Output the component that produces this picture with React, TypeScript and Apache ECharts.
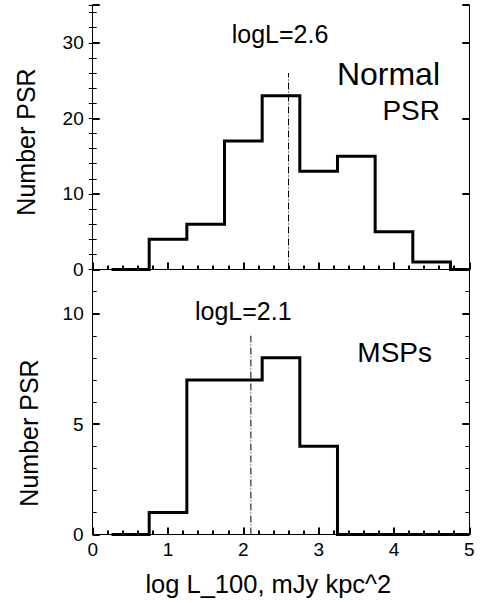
import React, { useEffect, useRef } from 'react';
import * as echarts from 'echarts';

// Histogram bin edges (log L_100) and counts
const binEdges = [0.25, 0.75, 1.25, 1.75, 2.25, 2.75, 3.25, 3.75, 4.25, 4.75, 5];
const normalCounts = [0, 4, 6, 17, 23, 13, 15, 5, 1, 0];
const mspCounts = [0, 1, 7, 7, 8, 4, 0, 0, 0, 0];

// Median markers
const normalMedian = 2.6;
const normalMedianTop = 26;
const mspMedian = 2.1;
const mspMedianTop = 9;

// Axis ranges
const xMin = 0;
const xMax = 5;
const normalYMax = 35;
const mspYMax = 12;

const FONT = '"Liberation Sans", Arial, Helvetica, sans-serif';

function stepPoints(edges: number[], counts: number[]) {
  const pts: number[][] = [];
  counts.forEach((c, i) => {
    pts.push([edges[i], c]);
    pts.push([edges[i + 1], c]);
  });
  return pts;
}

const GL = 92.7;
const GW = 376.6;
const G0T = 5;
const G0H = 264.5;
const G1T = 269.5;
const G1H = 265;

export default function App() {
  const ref = useRef<HTMLDivElement>(null);
  useEffect(() => {
    if (!ref.current) return;
    const chart = echarts.init(ref.current, null, { renderer: 'svg' });
    const black = '#000';
    const lineAxis = () => ({ show: true, lineStyle: { color: black, width: 1 } });
    const tick = (len: number, w: number) => ({ show: true, inside: true, length: len, lineStyle: { color: black, width: w } });
    const noTick = () => ({ show: false });
    const topRect = { left: GL, top: G0T, width: GW, height: G0H };
    const botRect = { left: GL, top: G1T, width: GW, height: G1H };

    const xBase = (gridIndex: number, interval: number) => ({
      type: 'value', gridIndex, min: xMin, max: xMax, interval, splitLine: { show: false },
    });
    const yBase = (gridIndex: number, max: number, interval: number) => ({
      type: 'value', gridIndex, min: 0, max, interval, splitLine: { show: false },
    });

    chart.setOption({
      animation: false,
      grid: [topRect, botRect, topRect, botRect, topRect, botRect],
      xAxis: [
        { ...xBase(0, 1), axisLine: lineAxis(), axisTick: noTick(), axisLabel: { show: false } },
        {
          ...xBase(1, 1), axisLine: lineAxis(), axisTick: noTick(),
          axisLabel: { show: true, color: black, fontSize: 19, fontFamily: FONT, margin: 5 },
        },
        { ...xBase(2, 0.2), axisLine: { show: false }, axisTick: tick(4, 2), axisLabel: { show: false } },
        { ...xBase(2, 1), axisLine: lineAxis(), axisTick: noTick(), axisLabel: { show: false } },
        { ...xBase(3, 0.2), axisLine: { show: false }, axisTick: tick(4, 2), axisLabel: { show: false } },
        { ...xBase(4, 1), axisLine: { show: false }, axisTick: tick(7, 2), axisLabel: { show: false } },
        { ...xBase(5, 1), axisLine: { show: false }, axisTick: tick(7, 2), axisLabel: { show: false } },
      ],
      yAxis: [
        {
          ...yBase(0, normalYMax, 10), axisLine: lineAxis(), axisTick: noTick(),
          axisLabel: {
            color: black, fontSize: 19, fontFamily: FONT, margin: 9,
            formatter: (v: number) => (v % 10 === 0 ? String(v) : ''),
          },
        },
        { ...yBase(0, normalYMax, 10), axisLine: lineAxis(), axisTick: noTick(), axisLabel: { show: false } },
        {
          ...yBase(1, mspYMax, 5), axisLine: lineAxis(), axisTick: noTick(),
          axisLabel: {
            color: black, fontSize: 19, fontFamily: FONT, margin: 9,
            formatter: (v: number) => (v % 5 === 0 ? String(v) : ''),
          },
        },
        { ...yBase(1, mspYMax, 5), axisLine: lineAxis(), axisTick: noTick(), axisLabel: { show: false } },
        { ...yBase(2, normalYMax, 2), axisLine: { show: false }, axisTick: tick(4, 1), axisLabel: { show: false } },
        { ...yBase(2, normalYMax, 2), axisLine: { show: false }, axisTick: tick(4, 1), axisLabel: { show: false } },
        { ...yBase(3, mspYMax, 1), axisLine: { show: false }, axisTick: tick(4, 1), axisLabel: { show: false } },
        { ...yBase(3, mspYMax, 1), axisLine: { show: false }, axisTick: tick(4, 1), axisLabel: { show: false } },
        { ...yBase(4, normalYMax, 10), axisLine: { show: false }, axisTick: tick(7, 2), axisLabel: { show: false } },
        { ...yBase(4, normalYMax, 10), axisLine: { show: false }, axisTick: tick(7, 2), axisLabel: { show: false } },
        { ...yBase(5, mspYMax, 5), axisLine: { show: false }, axisTick: tick(7, 2), axisLabel: { show: false } },
        { ...yBase(5, mspYMax, 5), axisLine: { show: false }, axisTick: tick(7, 2), axisLabel: { show: false } },
      ],
      series: [
        {
          type: 'line', xAxisIndex: 0, yAxisIndex: 0,
          data: stepPoints(binEdges, normalCounts),
          showSymbol: false, clip: false,
          lineStyle: { color: black, width: 3, join: 'miter' },
        },
        {
          type: 'line', xAxisIndex: 1, yAxisIndex: 2,
          data: stepPoints(binEdges, mspCounts),
          showSymbol: false, clip: false,
          lineStyle: { color: black, width: 3, join: 'miter' },
        },
        {
          type: 'line', xAxisIndex: 0, yAxisIndex: 0,
          data: [[normalMedian, 0], [normalMedian, normalMedianTop]],
          showSymbol: false, clip: false,
          lineStyle: { color: black, width: 1, type: [7, 2, 1, 2] },
        },
        {
          type: 'line', xAxisIndex: 1, yAxisIndex: 2,
          data: [[mspMedian, 0], [mspMedian, mspMedianTop]],
          showSymbol: false, clip: false,
          lineStyle: { color: black, width: 1, type: [7, 2, 1, 2] },
        },
      ],
      graphic: [
        { type: 'text', x: 280, y: 33.5, style: { text: 'logL=2.6', fill: black, font: `25px ${FONT}`, align: 'center', verticalAlign: 'middle' } },
        { type: 'text', x: 440, y: 73.5, style: { text: 'Normal', fill: black, font: `32px ${FONT}`, align: 'right', verticalAlign: 'middle' } },
        { type: 'text', x: 440, y: 110, style: { text: 'PSR', fill: black, font: `28px ${FONT}`, align: 'right', verticalAlign: 'middle' } },
        { type: 'text', x: 243.3, y: 310.5, style: { text: 'logL=2.1', fill: black, font: `25px ${FONT}`, align: 'center', verticalAlign: 'middle' } },
        { type: 'text', x: 394.7, y: 352, style: { text: 'MSPs', fill: black, font: `28px ${FONT}`, align: 'center', verticalAlign: 'middle' } },
        { type: 'text', x: 268.3, y: 584.4, style: { text: 'log L_100, mJy kpc^2', fill: black, font: `25.5px ${FONT}`, align: 'center', verticalAlign: 'middle' } },
        { type: 'text', x: 25.5, y: 142, rotation: Math.PI / 2, style: { text: 'Number PSR', fill: black, font: `25px ${FONT}`, align: 'center', verticalAlign: 'middle' } },
        { type: 'text', x: 28.5, y: 433, rotation: Math.PI / 2, style: { text: 'Number PSR', fill: black, font: `25px ${FONT}`, align: 'center', verticalAlign: 'middle' } },
      ],
    });
    return () => chart.dispose();
  }, []);
  return (
    <div
      ref={ref}
      style={{ position: 'absolute', left: 0, top: 0, width: 483, height: 603, background: '#fff' }}
    />
  );
}
